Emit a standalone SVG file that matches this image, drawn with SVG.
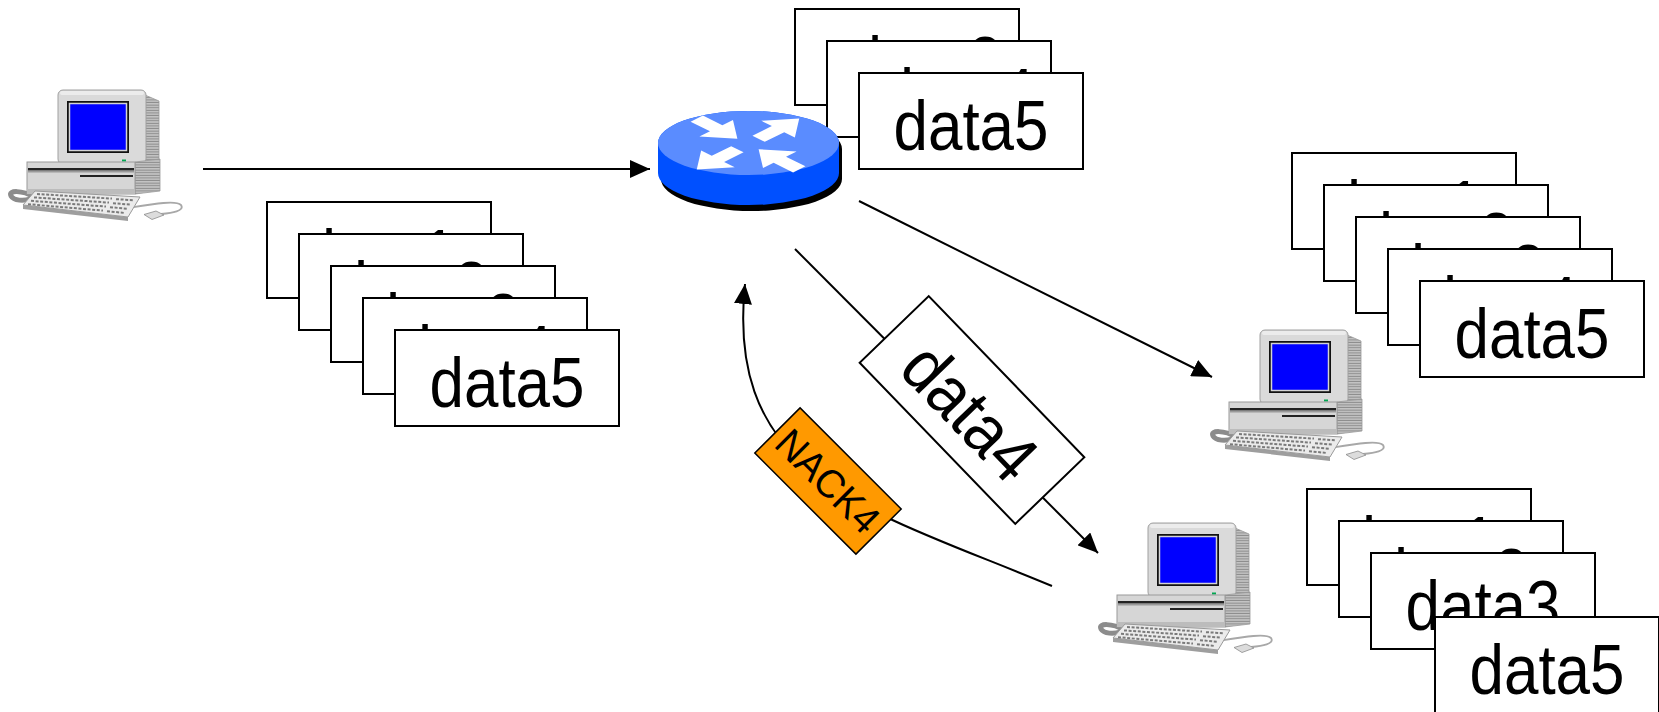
<svg xmlns="http://www.w3.org/2000/svg" xmlns:xlink="http://www.w3.org/1999/xlink" width="1659" height="712" viewBox="0 0 1659 712">
  <style>
    .pkt { fill: #ffffff; stroke: #000000; stroke-width: 2; }
    .lbl { font-family: "Liberation Sans", Arial, sans-serif; font-size: 70px; fill: #000000; text-anchor: middle; }
    .nack { font-family: "Liberation Sans", Arial, sans-serif; font-size: 40px; fill: #000000; text-anchor: middle; }
    .conn { fill: none; stroke: #000000; stroke-width: 2; }
    .rarrow { fill: #ffffff; }
  </style>
  <defs>
    <marker id="head" markerUnits="userSpaceOnUse" markerWidth="20" markerHeight="18" refX="20" refY="9" orient="auto">
      <path d="M0,0 L20,9 L0,18 Z" fill="#000000"/>
    </marker>
    <pattern id="vent" patternUnits="userSpaceOnUse" width="4" height="2.6">
      <rect width="4" height="2.6" fill="#c4c4c4"/>
      <rect y="1.6" width="4" height="1" fill="#8a8a8a"/>
    </pattern>
    <!-- router arrow pointing along +x, tail at the origin -->
    <polygon id="rarrow" class="rarrow" points="0,-7 22,-7 22,-19 46,0 22,19 22,7 0,7"/>
    <!-- desktop workstation, origin at the monitor's top-left corner -->
    <g id="pc">
      <!-- left cable -->
      <path d="M-24,107 C-36,100 -50,100 -47,106 C-44,111 -34,111 -28,109" fill="none" stroke="#8c8c8c" stroke-width="5" stroke-linecap="round"/>
      <!-- monitor side vents -->
      <polygon points="87,5 101,11 101,71 87,73" fill="url(#vent)" stroke="#9a9a9a" stroke-width="0.8"/>
      <!-- monitor front -->
      <rect x="0" y="0" width="88" height="74" rx="5" fill="#dadada" stroke="#a0a0a0" stroke-width="1"/>
      <rect x="2" y="1" width="84" height="4" rx="2" fill="#ececec"/>
      <rect x="9" y="11" width="62" height="52" fill="#111111"/>
      <rect x="11.5" y="13.5" width="57" height="47" fill="#0000ff" stroke="#d4d4d4" stroke-width="1.5"/>
      <rect x="64" y="69.5" width="4" height="2" fill="#00a651"/>
      <!-- system unit -->
      <polygon points="77,72 102,69 102,101 77,104" fill="url(#vent)" stroke="#9a9a9a" stroke-width="0.8"/>
      <rect x="-31" y="72" width="108" height="32" fill="#d6d6d6" stroke="#9a9a9a" stroke-width="1"/>
      <rect x="-30" y="78" width="106" height="2.5" fill="#222222"/>
      <rect x="-30" y="81" width="106" height="1.5" fill="#9a9a9a"/>
      <rect x="22" y="85" width="53" height="2" fill="#222222"/>
      <rect x="-31" y="99" width="108" height="5" fill="#bcbcbc"/>
      <!-- mouse cable and mouse -->
      <path d="M70,118 C95,114 118,110 123,115 C127,121 114,123 103,124" fill="none" stroke="#a8a8a8" stroke-width="1.8"/>
      <polygon points="86,124.5 98,121 106,125 94,129.5" fill="#dcdcdc" stroke="#8a8a8a" stroke-width="0.8"/>
      <!-- keyboard -->
      <polygon points="-35,115 70,127 70,131 -35,119" fill="#9e9e9e"/>
      <polygon points="-23,101 82,107 70,127 -35,115" fill="#ebebeb" stroke="#9a9a9a" stroke-width="1"/>
      <g stroke="#7a7a7a" stroke-width="2" stroke-dasharray="3 1.6">
        <line x1="-21" y1="104" x2="54" y2="108.6"/>
        <line x1="-24" y1="107.4" x2="51" y2="112.6"/>
        <line x1="-27" y1="110.8" x2="48" y2="116.6"/>
        <line x1="-30" y1="114.2" x2="45" y2="120.6"/>
        <line x1="58" y1="109.2" x2="76" y2="110.2"/>
        <line x1="55" y1="113.2" x2="73" y2="114.6"/>
        <line x1="52" y1="117.2" x2="70" y2="118.8"/>
        <line x1="49" y1="121.2" x2="67" y2="123"/>
      </g>
    </g>
  </defs>

  <rect width="1659" height="712" fill="#ffffff"/>

  <!-- links -->
  <g id="connectors">
    <path class="conn" d="M203,169 L650,169" marker-end="url(#head)"/>
    <path class="conn" d="M859,201 L1212,377" marker-end="url(#head)"/>
    <path class="conn" d="M795,249 L1098,553" marker-end="url(#head)"/>
    <path class="conn" d="M1052,586 C870,510 725,480 745,284" marker-end="url(#head)"/>
  </g>

  <!-- sender -->
  <g id="sender">
    <use xlink:href="#pc" href="#pc" transform="translate(58,90)"/>
  </g>

  <!-- packets queued at the sender -->
  <g id="sender-queue">
    <rect class="pkt" x="267" y="202" width="224" height="96"/>
    <text class="lbl" x="379" y="279" textLength="155" lengthAdjust="spacingAndGlyphs">data1</text>
    <rect class="pkt" x="299" y="234" width="224" height="96"/>
    <text class="lbl" x="411" y="311" textLength="155" lengthAdjust="spacingAndGlyphs">data2</text>
    <rect class="pkt" x="331" y="266" width="224" height="96"/>
    <text class="lbl" x="443" y="343" textLength="155" lengthAdjust="spacingAndGlyphs">data3</text>
    <rect class="pkt" x="363" y="298" width="224" height="96"/>
    <text class="lbl" x="475" y="375" textLength="155" lengthAdjust="spacingAndGlyphs">data4</text>
    <rect class="pkt" x="395" y="330" width="224" height="96"/>
    <text class="lbl" x="507" y="407" textLength="155" lengthAdjust="spacingAndGlyphs">data5</text>
  </g>

  <!-- packets buffered at the router -->
  <g id="router-queue">
    <rect class="pkt" x="795" y="9" width="224" height="96"/>
    <text class="lbl" x="925" y="86" textLength="155" lengthAdjust="spacingAndGlyphs">data3</text>
    <rect class="pkt" x="827" y="41" width="224" height="96"/>
    <text class="lbl" x="957" y="118" textLength="155" lengthAdjust="spacingAndGlyphs">data4</text>
    <rect class="pkt" x="859" y="73" width="224" height="96"/>
    <text class="lbl" x="971" y="150" textLength="155" lengthAdjust="spacingAndGlyphs">data5</text>
  </g>

  <!-- router -->
  <g id="router">
    <path d="M658,143 A90.5,32 0 0 1 839,143 L839,173 A90.5,32 0 0 1 658,173 Z" fill="#000000" transform="translate(3,6)"/>
    <path d="M658,143 A90.5,32 0 0 1 839,143 L839,173 A90.5,32 0 0 1 658,173 Z" fill="#0050ff"/>
    <ellipse cx="748.5" cy="143" rx="90.5" ry="32" fill="#5a8cff"/>
    <g transform="translate(748,144) scale(1.25,0.62)">
      <use xlink:href="#rarrow" href="#rarrow" transform="rotate(-135) translate(58,0) rotate(180)"/>
      <use xlink:href="#rarrow" href="#rarrow" transform="rotate(-45) translate(12,0)"/>
      <use xlink:href="#rarrow" href="#rarrow" transform="rotate(135) translate(12,0)"/>
      <use xlink:href="#rarrow" href="#rarrow" transform="rotate(45) translate(58,0) rotate(180)"/>
    </g>
  </g>

  <!-- receiver A -->
  <g id="receiver-a">
    <use xlink:href="#pc" href="#pc" transform="translate(1260,330)"/>
  </g>

  <!-- packets received by A -->
  <g id="receiver-a-queue">
    <rect class="pkt" x="1292" y="153" width="224" height="96"/>
    <text class="lbl" x="1404" y="230" textLength="155" lengthAdjust="spacingAndGlyphs">data1</text>
    <rect class="pkt" x="1324" y="185" width="224" height="96"/>
    <text class="lbl" x="1436" y="262" textLength="155" lengthAdjust="spacingAndGlyphs">data2</text>
    <rect class="pkt" x="1356" y="217" width="224" height="96"/>
    <text class="lbl" x="1468" y="294" textLength="155" lengthAdjust="spacingAndGlyphs">data3</text>
    <rect class="pkt" x="1388" y="249" width="224" height="96"/>
    <text class="lbl" x="1500" y="326" textLength="155" lengthAdjust="spacingAndGlyphs">data4</text>
    <rect class="pkt" x="1420" y="281" width="224" height="96"/>
    <text class="lbl" x="1532" y="358" textLength="155" lengthAdjust="spacingAndGlyphs">data5</text>
  </g>

  <!-- receiver B -->
  <g id="receiver-b">
    <use xlink:href="#pc" href="#pc" transform="translate(1148,523)"/>
  </g>

  <!-- packets received by B (data4 missing) -->
  <g id="receiver-b-queue">
    <rect class="pkt" x="1307" y="489" width="224" height="96"/>
    <text class="lbl" x="1419" y="566" textLength="155" lengthAdjust="spacingAndGlyphs">data1</text>
    <rect class="pkt" x="1339" y="521" width="224" height="96"/>
    <text class="lbl" x="1451" y="598" textLength="155" lengthAdjust="spacingAndGlyphs">data2</text>
    <rect class="pkt" x="1371" y="553" width="224" height="96"/>
    <text class="lbl" x="1483" y="630" textLength="155" lengthAdjust="spacingAndGlyphs">data3</text>
    <rect class="pkt" x="1435" y="617" width="224" height="96"/>
    <text class="lbl" x="1547" y="694" textLength="155" lengthAdjust="spacingAndGlyphs">data5</text>
  </g>

  <!-- retransmitted data4 in flight -->
  <g id="data4-packet" transform="translate(972,410) rotate(46)">
    <rect class="pkt" x="-112" y="-48" width="224" height="96"/>
    <text class="lbl" x="0" y="27" textLength="160" lengthAdjust="spacingAndGlyphs">data4</text>
  </g>

  <!-- NACK in flight -->
  <g id="nack-packet" transform="translate(828,481) rotate(45)">
    <rect x="-71.5" y="-32" width="143" height="64" fill="#ff9900" stroke="#000000" stroke-width="1.5"/>
    <text class="nack" x="0" y="14" textLength="128" lengthAdjust="spacingAndGlyphs">NACK4</text>
  </g>
</svg>
